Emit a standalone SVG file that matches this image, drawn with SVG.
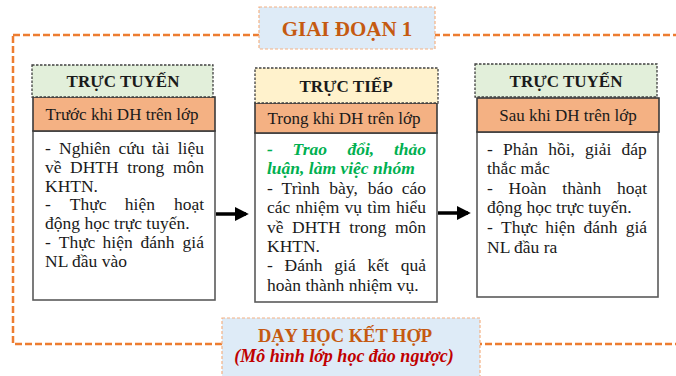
<svg xmlns="http://www.w3.org/2000/svg" width="676" height="376" viewBox="0 0 676 376" font-family="'Liberation Serif', 'Times New Roman', 'DejaVu Serif', serif">
<defs>
<style>
.frame{fill:none;stroke:#ed7d31;stroke-width:2.5;stroke-dasharray:7 3}
.tbox{fill:#deebf7;stroke:#f4b183;stroke-width:1.2;stroke-dasharray:3 2}
.hdg{fill:#e2efda;stroke:#404040;stroke-width:1.3;stroke-dasharray:2.5 1.5}
.hdy{fill:#fff2cc;stroke:#404040;stroke-width:1.3;stroke-dasharray:2.5 1.5}
.sub{fill:#f4b183;stroke:#3a3a3a;stroke-width:1.6}
.body{fill:#ffffff;stroke:#5a5a5a;stroke-width:1.6}
text{font-family:'Liberation Serif','Times New Roman','DejaVu Serif',serif;fill:#1a1a1a}
.h{font-size:17px;font-weight:bold;text-anchor:middle}
.s{font-size:17px;text-anchor:middle}
.t{font-size:17.5px}
.g{font-size:17.5px;font-weight:bold;font-style:italic;fill:#00b050}
.title{font-size:21px;font-weight:bold;fill:#c55a11;text-anchor:middle}
.conn{stroke:#000;stroke-width:3.5;fill:none}
</style>
<marker id="ah" markerWidth="4" markerHeight="4" refX="3.2" refY="2" orient="auto" markerUnits="strokeWidth">
<path d="M0,0 L4,2 L0,4 Z" fill="#000"/>
</marker>
</defs>
<rect x="0" y="0" width="676" height="376" fill="#fff"/>
<rect id="frame" class="frame" x="13" y="35" width="700" height="309"/>

<g id="title">
<rect class="tbox" x="259" y="7" width="176" height="42"/>
<text class="title" x="347" y="36">GIAI ĐOẠN 1</text>
</g>

<g id="bottom">
<rect class="tbox" x="222" y="318" width="258" height="70"/>
<text class="title" x="345" y="342" style="font-size:18.5px">DẠY HỌC KẾT HỢP</text>
<text x="344" y="362" style="font-size:18px;font-weight:bold;font-style:italic;fill:#c00000;text-anchor:middle">(Mô hình lớp học đảo ngược)</text>
</g>

<g id="col1">
<rect class="body" x="33" y="131" width="182" height="169"/>
<rect class="sub" x="33" y="97" width="182" height="34"/>
<rect class="hdg" x="32" y="65" width="181" height="32"/>
<text class="h" x="123" y="87">TRỰC TUYẾN</text>
<text class="s" x="122" y="120">Trước khi DH trên lớp</text>
<text class="t" y="154"><tspan x="45">-</tspan><tspan x="59">Nghiên</tspan><tspan x="118.6">cứu</tspan><tspan x="152">tài</tspan><tspan x="177.7">liệu</tspan></text>
<text class="t" y="172.75"><tspan x="45">về</tspan><tspan x="70.1">DHTH</tspan><tspan x="127.3">trong</tspan><tspan x="172.9">môn</tspan></text>
<text class="t" x="45" y="191.5">KHTN.</text>
<text class="t" y="210.25"><tspan x="45">-</tspan><tspan x="69.8">Thực</tspan><tspan x="124.8">hiện</tspan><tspan x="173.9">hoạt</tspan></text>
<text class="t" x="45" y="229">động học trực tuyến.</text>
<text class="t" y="247.75"><tspan x="45">-</tspan><tspan x="58.7">Thực</tspan><tspan x="102.6">hiện</tspan><tspan x="140.6">đánh</tspan><tspan x="182.6">giá</tspan></text>
<text class="t" x="45" y="266.5">NL đầu vào</text>
</g>

<g id="col2">
<rect class="body" x="255" y="133" width="182" height="169"/>
<rect class="sub" x="255" y="103" width="182" height="30"/>
<rect class="hdy" x="255" y="68" width="183" height="35"/>
<text class="h" x="346" y="91.5">TRỰC TIẾP</text>
<text class="s" x="344" y="124">Trong khi DH trên lớp</text>
<text class="g" y="155"><tspan x="267">-</tspan><tspan x="292.6">Trao</tspan><tspan x="347.4">đổi,</tspan><tspan x="393.9">thảo</tspan></text>
<text class="g" x="267" y="174.4">luận, làm việc nhóm</text>
<text class="t" y="193.8"><tspan x="267">-</tspan><tspan x="281.6">Trình</tspan><tspan x="329.3">bày,</tspan><tspan x="367.7">báo</tspan><tspan x="401.8">cáo</tspan></text>
<text class="t" y="213.2"><tspan x="267">các</tspan><tspan x="295.6">nhiệm</tspan><tspan x="344.6">vụ</tspan><tspan x="367.3">tìm</tspan><tspan x="395.9">hiểu</tspan></text>
<text class="t" y="232.6"><tspan x="267">về</tspan><tspan x="292.1">DHTH</tspan><tspan x="349.3">trong</tspan><tspan x="394.9">môn</tspan></text>
<text class="t" x="267" y="252">KHTN.</text>
<text class="t" y="271.4"><tspan x="267">-</tspan><tspan x="284.6">Đánh</tspan><tspan x="334.3">giá</tspan><tspan x="367.5">kết</tspan><tspan x="400.7">quả</tspan></text>
<text class="t" x="267" y="290.8">hoàn thành nhiệm vụ.</text>
</g>

<g id="col3">
<rect class="body" x="477" y="132" width="181" height="165"/>
<rect class="sub" x="477" y="98" width="182" height="34"/>
<rect class="hdg" x="475" y="64" width="182" height="33"/>
<text class="h" x="566" y="86.5">TRỰC TUYẾN</text>
<text class="s" x="568" y="121">Sau khi DH trên lớp</text>
<text class="t" y="154.5"><tspan x="487">-</tspan><tspan x="503">Phản</tspan><tspan x="548.2">hồi,</tspan><tspan x="585.1">giải</tspan><tspan x="621.6">đáp</tspan></text>
<text class="t" x="487" y="174.1">thắc mắc</text>
<text class="t" y="193.7"><tspan x="487">-</tspan><tspan x="508.6">Hoàn</tspan><tspan x="562.3">thành</tspan><tspan x="617">hoạt</tspan></text>
<text class="t" x="487" y="213.3">động học trực tuyến.</text>
<text class="t" y="232.9"><tspan x="487">-</tspan><tspan x="501">Thực</tspan><tspan x="545.2">hiện</tspan><tspan x="583.5">đánh</tspan><tspan x="625.7">giá</tspan></text>
<text class="t" x="487" y="252.5">NL đầu ra</text>
</g>

<g id="connectors">
<line class="conn" x1="216" y1="214" x2="246" y2="214" marker-end="url(#ah)"/>
<line class="conn" x1="438" y1="213" x2="468" y2="213" marker-end="url(#ah)"/>
</g>
</svg>
